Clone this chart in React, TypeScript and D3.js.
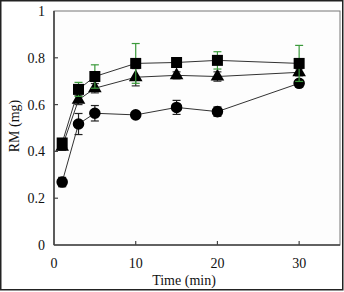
import * as d3 from "d3";
import { useEffect, useRef } from "react";

const times = [1, 3, 5, 10, 15, 20, 30];

const squareMean = [0.436, 0.665, 0.72, 0.776, 0.78, 0.789, 0.776];
const squareErr = [0.015, 0.03, 0.05, 0.085, 0.015, 0.037, 0.077];

const triangleMean = [0.42, 0.62, 0.67, 0.717, 0.725, 0.72, 0.738];
const triangleErr = [0.015, 0.02, 0.02, 0.037, 0.015, 0.02, 0.015];

const circleMean = [0.269, 0.517, 0.563, 0.556, 0.588, 0.57, 0.691];
const circleErr = [0.02, 0.045, 0.033, 0.01, 0.03, 0.02, 0.015];

const xTicks = [0, 10, 20, 30];
const yTicks = [0, 0.2, 0.4, 0.6, 0.8, 1];

type Point = { t: number; v: number; e: number };

const toPoints = (means: number[], errs: number[]): Point[] =>
  times.map((t, i) => ({ t, v: means[i], e: errs[i] }));

export default function App() {
  const svgRef = useRef<SVGSVGElement | null>(null);

  useEffect(() => {
    document.body.style.margin = "0";
    if (!svgRef.current) return;

    const width = 344;
    const height = 292;
    const plot = { left: 54, top: 11, right: 340, bottom: 245 };

    const svg = d3.select(svgRef.current);
    svg.selectAll("*").remove();
    svg
      .attr("width", width)
      .attr("height", height)
      .style("font-family", '"Liberation Serif", "Times New Roman", serif');

    const x = d3.scaleLinear().domain([0, 35]).range([plot.left, plot.right]);
    const y = d3.scaleLinear().domain([0, 1]).range([plot.bottom, plot.top]);

    svg.append("rect").attr("width", width).attr("height", height).attr("fill", "#ffffff");

    // outer border around the figure
    svg
      .append("rect")
      .attr("x", 0.75)
      .attr("y", 0.75)
      .attr("width", width - 2)
      .attr("height", height - 3)
      .attr("fill", "none")
      .attr("stroke", "#222")
      .attr("stroke-width", 1.5);

    // plot frame
    svg
      .append("rect")
      .attr("x", plot.left)
      .attr("y", plot.top)
      .attr("width", plot.right - plot.left)
      .attr("height", plot.bottom - plot.top)
      .attr("fill", "#fdfdfd")
      .attr("stroke", "#777")
      .attr("stroke-width", 1);

    const axes = svg.append("g").attr("stroke", "#444").attr("stroke-width", 1.6);
    axes
      .append("line")
      .attr("x1", plot.left)
      .attr("x2", plot.left)
      .attr("y1", plot.top)
      .attr("y2", plot.bottom);
    axes
      .append("line")
      .attr("x1", plot.left)
      .attr("x2", plot.right)
      .attr("y1", plot.bottom)
      .attr("y2", plot.bottom);

    // inward ticks
    axes
      .selectAll(".ytick")
      .data(yTicks.filter((v) => v > 0 && v < 1))
      .join("line")
      .attr("x1", plot.left)
      .attr("x2", plot.left + 4)
      .attr("y1", (v) => y(v))
      .attr("y2", (v) => y(v))
      .attr("stroke-width", 1.2);
    axes
      .selectAll(".xtick")
      .data(xTicks.filter((v) => v > 0))
      .join("line")
      .attr("x1", (v) => x(v))
      .attr("x2", (v) => x(v))
      .attr("y1", plot.bottom)
      .attr("y2", plot.bottom - 4)
      .attr("stroke-width", 1.2);

    svg
      .append("g")
      .selectAll("text")
      .data(yTicks)
      .join("text")
      .attr("x", 45)
      .attr("y", (v) => y(v) + 5)
      .attr("text-anchor", "end")
      .attr("font-size", 14)
      .attr("fill", "#111")
      .text((v) => d3.format("~g")(v));

    svg
      .append("g")
      .selectAll("text")
      .data(xTicks)
      .join("text")
      .attr("x", (v) => x(v))
      .attr("y", 268)
      .attr("text-anchor", "middle")
      .attr("font-size", 14)
      .attr("fill", "#111")
      .text((v) => v);

    svg
      .append("text")
      .attr("x", 184)
      .attr("y", 285)
      .attr("text-anchor", "middle")
      .attr("font-size", 14)
      .attr("fill", "#111")
      .text("Time (min)");

    svg
      .append("text")
      .attr("transform", "translate(19,126) rotate(-90)")
      .attr("text-anchor", "middle")
      .attr("font-size", 14)
      .attr("fill", "#111")
      .text("RM (mg)");

    const line = d3
      .line<Point>()
      .x((p) => x(p.t))
      .y((p) => y(p.v));

    const series = [
      { pts: toPoints(circleMean, circleErr), shape: d3.symbolCircle, size: 105, err: "#222" },
      { pts: toPoints(triangleMean, triangleErr), shape: d3.symbolTriangle, size: 80, err: "#333" },
      { pts: toPoints(squareMean, squareErr), shape: d3.symbolSquare, size: 121, err: "#3b9a3b" },
    ];

    series.forEach((s) => {
      svg
        .append("path")
        .datum(s.pts)
        .attr("d", line)
        .attr("fill", "none")
        .attr("stroke", "#333")
        .attr("stroke-width", 1);
    });

    series.forEach((s) => {
      const g = svg.append("g").attr("stroke", s.err).attr("stroke-width", 1.2);
      const bars = g.selectAll("g").data(s.pts).join("g");
      bars
        .append("line")
        .attr("x1", (p) => x(p.t))
        .attr("x2", (p) => x(p.t))
        .attr("y1", (p) => y(p.v - p.e))
        .attr("y2", (p) => y(p.v + p.e));
      bars
        .append("line")
        .attr("x1", (p) => x(p.t) - 4)
        .attr("x2", (p) => x(p.t) + 4)
        .attr("y1", (p) => y(p.v + p.e))
        .attr("y2", (p) => y(p.v + p.e));
      bars
        .append("line")
        .attr("x1", (p) => x(p.t) - 4)
        .attr("x2", (p) => x(p.t) + 4)
        .attr("y1", (p) => y(p.v - p.e))
        .attr("y2", (p) => y(p.v - p.e));

      svg
        .append("g")
        .selectAll("path")
        .data(s.pts)
        .join("path")
        .attr("transform", (p) => `translate(${x(p.t)},${y(p.v)})`)
        .attr("d", d3.symbol().type(s.shape).size(s.size)())
        .attr("fill", "#000");
    });
  }, []);

  return <svg ref={svgRef} style={{ display: "block" }} />;
}
